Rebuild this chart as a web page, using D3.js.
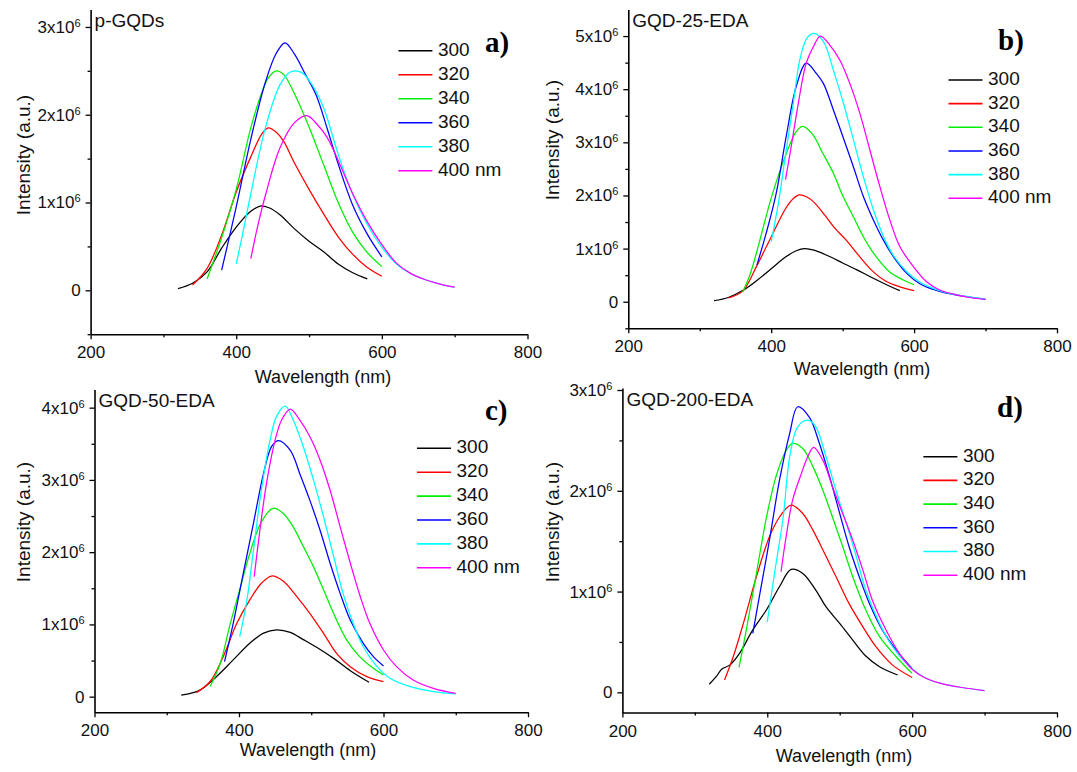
<!DOCTYPE html>
<html>
<head>
<meta charset="utf-8">
<script src="https://cdn.jsdelivr.net/npm/d3@7"></script>
<style>
  body { margin: 0; background: #fff; }
  svg { display: block; font-family: "Liberation Sans", Arial, sans-serif; }
</style>
</head>
<body>
<script>
// DATA (intensities in units of 10^6, wavelength in nm)
var wavelengthTicks = [200, 400, 600, 800],
    wavelengthMinor = [300, 500, 700];

var excitation = ['300', '320', '340', '360', '380', '400 nm'];
var panelNames = ['p-GQDs', 'GQD-25-EDA', 'GQD-50-EDA', 'GQD-200-EDA'];
var panelLetters = ['a)', 'b)', 'c)', 'd)'];

var yTicksA = [0, 1, 2, 3],
    yTicksB = [0, 1, 2, 3, 4, 5],
    yTicksC = [0, 1, 2, 3, 4],
    yTicksD = [0, 1, 2, 3];
var yMinorA = [-0.5, 0.5, 1.5, 2.5],
    yMinorB = [-0.5, 0.5, 1.5, 2.5, 3.5, 4.5],
    yMinorC = [0.5, 1.5, 2.5, 3.5],
    yMinorD = [0.5, 1.5, 2.5];

// a) p-GQDs
var pGQDs = [
  [[320,0.02],[340,0.08],[360,0.21],[380,0.48],[400,0.72],[420,0.90],[433,0.96],[445,0.94],[460,0.86],[480,0.70],[500,0.56],[520,0.44],[540,0.30],[560,0.20],[580,0.13]],
  [[340,0.06],[360,0.25],[380,0.63],[400,1.12],[420,1.52],[435,1.78],[444,1.85],[455,1.80],[465,1.70],[480,1.45],[500,1.15],[520,0.87],[540,0.61],[560,0.41],[580,0.26],[600,0.16]],
  [[360,0.13],[380,0.60],[400,1.15],[420,1.85],[435,2.25],[445,2.43],[455,2.50],[465,2.46],[480,2.24],[500,1.86],[520,1.43],[540,1.00],[560,0.66],[580,0.43],[600,0.27]],
  [[380,0.23],[400,0.95],[420,1.72],[440,2.37],[455,2.70],[467,2.82],[480,2.69],[495,2.46],[510,2.22],[525,1.84],[540,1.44],[560,0.97],[580,0.64],[600,0.38]],
  [[400,0.30],[410,0.69],[420,1.10],[440,1.85],[460,2.34],[475,2.49],[490,2.48],[505,2.33],[520,2.08],[540,1.55],[560,1.09],[580,0.75],[600,0.49],[620,0.30],[640,0.19],[660,0.12],[680,0.07],[700,0.035]],
  [[420,0.36],[430,0.75],[440,1.08],[460,1.62],[480,1.91],[497,1.99],[510,1.90],[525,1.74],[540,1.48],[560,1.10],[580,0.78],[600,0.52],[620,0.31],[640,0.19],[660,0.12],[680,0.07],[700,0.035]]
];

// b) GQD-25-EDA
var gqd25 = [
  [[320,0.02],[340,0.08],[360,0.21],[380,0.40],[400,0.62],[420,0.84],[435,0.96],[447,1.00],[460,0.97],[480,0.86],[500,0.73],[520,0.60],[540,0.46],[560,0.33],[580,0.21]],
  [[340,0.07],[360,0.20],[380,0.68],[400,1.22],[420,1.75],[430,1.93],[439,2.01],[450,1.97],[460,1.87],[475,1.63],[490,1.37],[505,1.16],[520,0.91],[540,0.60],[560,0.39],[580,0.28],[600,0.21]],
  [[360,0.18],[370,0.50],[380,0.95],[400,1.95],[420,2.75],[435,3.20],[444,3.30],[458,3.15],[472,2.80],[487,2.42],[500,2.00],[515,1.60],[530,1.20],[545,0.88],[565,0.57],[585,0.41],[600,0.32]],
  [[380,0.69],[393,1.29],[407,2.04],[421,3.11],[435,4.05],[449,4.49],[463,4.30],[473,4.11],[487,3.61],[500,3.12],[515,2.54],[529,1.98],[543,1.54],[557,1.16],[571,0.85],[590,0.53],[608,0.34],[627,0.23],[645,0.16],[673,0.095],[700,0.045]],
  [[400,1.13],[410,1.85],[419,2.67],[431,3.74],[440,4.55],[450,4.96],[460,5.05],[473,4.90],[487,4.36],[501,3.74],[515,3.05],[529,2.35],[543,1.73],[557,1.23],[571,0.87],[590,0.56],[608,0.37],[627,0.25],[645,0.17],[673,0.10],[700,0.045]],
  [[420,2.30],[428,2.92],[438,3.74],[449,4.49],[459,4.80],[469,5.00],[482,4.83],[496,4.55],[510,4.11],[524,3.55],[538,2.86],[552,2.17],[566,1.54],[580,1.04],[599,0.66],[617,0.38],[636,0.22],[659,0.13],[680,0.075],[700,0.045]]
];

// c) GQD-50-EDA
var gqd50 = [
  [[320,0.02],[346,0.09],[369,0.28],[392,0.51],[415,0.74],[434,0.88],[452,0.925],[471,0.89],[489,0.79],[508,0.68],[531,0.53],[554,0.36],[580,0.20]],
  [[341,0.056],[360,0.21],[378,0.55],[397,1.015],[415,1.34],[431,1.57],[445,1.67],[461,1.60],[480,1.385],[498,1.154],[517,0.877],[535,0.60],[554,0.415],[577,0.277],[600,0.208]],
  [[360,0.14],[374,0.46],[388,1.015],[401,1.48],[415,1.985],[431,2.42],[447,2.607],[461,2.54],[475,2.35],[489,2.08],[503,1.80],[517,1.48],[531,1.15],[549,0.785],[567,0.554],[586,0.392],[600,0.30]],
  [[380,0.485],[392,1.015],[406,1.71],[420,2.40],[434,3.09],[445,3.46],[454,3.544],[471,3.41],[484,3.09],[498,2.72],[512,2.31],[526,1.85],[540,1.43],[554,1.06],[572,0.738],[586,0.554],[600,0.425]],
  [[401,0.83],[411,1.34],[420,2.03],[431,2.86],[443,3.55],[452,3.88],[464,4.02],[475,3.83],[489,3.46],[503,3.00],[517,2.49],[531,1.94],[544,1.43],[558,1.015],[572,0.69],[591,0.415],[609,0.254],[637,0.139],[669,0.07],[700,0.037]],
  [[421,1.66],[429,2.31],[438,2.95],[450,3.55],[459,3.83],[471,3.98],[484,3.83],[498,3.60],[512,3.28],[526,2.86],[540,2.35],[554,1.85],[568,1.38],[581,1.015],[600,0.646],[618,0.415],[641,0.23],[669,0.115],[700,0.046]]
];

// d) GQD-200-EDA
var gqd200 = [
  [[320,0.08],[330,0.16],[337,0.23],[348,0.27],[362,0.39],[380,0.62],[399,0.82],[417,1.05],[433,1.22],[449,1.18],[467,1.015],[481,0.85],[500,0.684],[518,0.519],[536,0.36],[555,0.254],[580,0.172]],
  [[341,0.122],[353,0.353],[367,0.684],[385,1.147],[403,1.544],[417,1.74],[433,1.858],[449,1.775],[463,1.61],[477,1.41],[495,1.147],[513,0.88],[532,0.65],[550,0.453],[573,0.27],[600,0.148]],
  [[361,0.247],[371,0.618],[385,1.18],[399,1.74],[412,2.14],[426,2.40],[435,2.47],[449,2.42],[463,2.24],[477,2.00],[490,1.74],[504,1.45],[518,1.147],[536,0.816],[555,0.552],[578,0.353],[600,0.188]],
  [[380,0.585],[389,0.948],[403,1.51],[417,2.11],[431,2.57],[442,2.834],[458,2.73],[472,2.47],[486,2.14],[500,1.776],[513,1.445],[527,1.147],[541,0.882],[559,0.618],[578,0.42],[600,0.238]],
  [[400,0.70],[410,1.18],[422,1.74],[431,2.34],[442,2.635],[456,2.70],[467,2.635],[481,2.34],[495,2.00],[509,1.68],[523,1.345],[536,1.015],[555,0.684],[573,0.453],[596,0.26],[619,0.14],[642,0.085],[669,0.048],[700,0.018]],
  [[419,1.197],[426,1.544],[435,1.908],[447,2.17],[456,2.34],[464,2.43],[477,2.30],[490,2.04],[504,1.776],[518,1.51],[532,1.213],[545,0.916],[564,0.618],[582,0.39],[600,0.23],[619,0.14],[642,0.085],[669,0.048],[700,0.018]]
];

var lineColors = ['#000000', '#ff0000', '#00ee00', '#0000ff', '#00ffff', '#ff00ff'];

// LAYOUT (pixel geometry of each panel)
var panels = [
  { data: pGQDs, yTicks: yTicksA, yMinor: yMinorA, yDomain: [-0.5, 3.2],
    left: 90.6, right: 527.5, bottom: 334.2, top: 9.4,
    legX: 398.4, legY: 50.7, legStep: 24,
    letterX: 485, letterY: 52, xTitleX: 323, xTitleY: 383, yTitleX: 30, yTitleY: 155 },
  { data: gqd25, yTicks: yTicksB, yMinor: yMinorB, yDomain: [-0.5, 5.5],
    left: 628.3, right: 1057, bottom: 328.3, top: 9.5,
    legX: 948.5, legY: 80, legStep: 23.65,
    letterX: 998, letterY: 50, xTitleX: 862, xTitleY: 375, yTitleX: 559, yTitleY: 140 },
  { data: gqd50, yTicks: yTicksC, yMinor: yMinorC, yDomain: [-0.215, 4.25],
    left: 94.5, right: 528, bottom: 712.2, top: 389.6,
    legX: 417, legY: 448.3, legStep: 23.9,
    letterX: 485, letterY: 420, xTitleX: 308, xTitleY: 756, yTitleX: 29.5, yTitleY: 522 },
  { data: gqd200, yTicks: yTicksD, yMinor: yMinorD, yDomain: [-0.2, 3.02],
    left: 622.4, right: 1057, bottom: 712.5, top: 388,
    legX: 923.4, legY: 456.7, legStep: 23.7,
    letterX: 997, letterY: 417, xTitleX: 844, xTitleY: 762, yTitleX: 559, yTitleY: 522 }
];

var svg = d3.select('body').append('svg')
  .attr('width', 1077)
  .attr('height', 772);

svg.append('rect').attr('width', 1077).attr('height', 772).attr('fill', '#fff');

function translation(x, y) {
  return 'translate(' + x + ',' + y + ')';
}

function styleAxis(sel) {
  sel.attr('font-family', null).attr('font-size', 17);
  sel.select('.domain').attr('stroke', '#000').attr('stroke-width', 1.6);
  sel.selectAll('.tick line').attr('stroke', '#000').attr('stroke-width', 1.3);
  sel.selectAll('.tick text').attr('fill', '#111');
}

panels.forEach(function(p, i) {
  var x = d3.scaleLinear().domain([200, 800]).range([p.left, p.right]);
  var y = d3.scaleLinear().domain(p.yDomain).range([p.bottom, p.top]);
  var g = svg.append('g');

  // minor ticks
  g.append('g')
    .attr('transform', translation(0, p.bottom))
    .call(d3.axisBottom(x).tickValues(wavelengthMinor).tickSize(3).tickFormat('').tickSizeOuter(0))
    .call(styleAxis)
    .select('.domain').remove();
  g.append('g')
    .attr('transform', translation(p.left, 0))
    .call(d3.axisLeft(y).tickValues(p.yMinor).tickSize(3).tickFormat('').tickSizeOuter(0))
    .call(styleAxis)
    .select('.domain').remove();

  // x axis
  g.append('g')
    .attr('transform', translation(0, p.bottom))
    .call(d3.axisBottom(x).tickValues(wavelengthTicks).tickSize(5).tickPadding(7).tickSizeOuter(0))
    .call(styleAxis);

  // y axis with "Nx10^6" labels
  var ya = g.append('g')
    .attr('transform', translation(p.left, 0))
    .call(d3.axisLeft(y).tickValues(p.yTicks).tickSize(5).tickPadding(5).tickSizeOuter(0).tickFormat(''))
    .call(styleAxis);
  ya.selectAll('.tick text').each(function(d) {
    var t = d3.select(this);
    if (d === 0) {
      t.text('0');
    } else {
      t.append('tspan').text(d + 'x10');
      t.append('tspan').attr('font-size', 11).attr('dy', -6).text('6');
    }
  });

  // curves
  var line = d3.line()
    .x(function(d) { return x(d[0]); })
    .y(function(d) { return y(d[1]); })
    .curve(d3.curveCatmullRom.alpha(0.5));

  g.selectAll('.curve')
    .data(p.data)
    .enter().append('path')
      .attr('class', 'curve')
      .attr('fill', 'none')
      .attr('stroke', function(d, k) { return lineColors[k]; })
      .attr('stroke-width', 1.25)
      .attr('stroke-linejoin', 'round')
      .attr('d', line);

  // legend
  var leg = g.selectAll('.leg')
    .data(excitation)
    .enter().append('g')
      .attr('class', 'leg')
      .attr('transform', function(d, k) { return translation(p.legX, p.legY + k * p.legStep); });
  leg.append('line')
    .attr('x1', 0).attr('x2', 34)
    .attr('stroke', function(d, k) { return lineColors[k]; })
    .attr('stroke-width', 1.6);
  leg.append('text')
    .attr('x', 39.5)
    .attr('dy', '0.26em')
    .attr('font-size', 19)
    .attr('fill', '#111')
    .text(function(d) { return d; });

  // panel name and letter
  g.append('text')
    .attr('x', p.left + 4)
    .attr('y', p.top + 17.5)
    .attr('font-size', 19)
    .attr('fill', '#111')
    .text(panelNames[i]);

  g.append('text')
    .attr('x', p.letterX)
    .attr('y', p.letterY)
    .attr('font-family', '"Liberation Serif", "Times New Roman", serif')
    .attr('font-weight', 'bold')
    .attr('font-size', 29)
    .attr('fill', '#000')
    .text(panelLetters[i]);

  // axis titles
  g.append('text')
    .attr('x', p.xTitleX)
    .attr('y', p.xTitleY)
    .attr('text-anchor', 'middle')
    .attr('font-size', 18)
    .attr('fill', '#111')
    .text('Wavelength (nm)');

  g.append('text')
    .attr('transform', translation(p.yTitleX, p.yTitleY) + 'rotate(-90)')
    .attr('text-anchor', 'middle')
    .attr('font-size', 19)
    .attr('fill', '#111')
    .text('Intensity (a.u.)');
});
</script>
</body>
</html>
